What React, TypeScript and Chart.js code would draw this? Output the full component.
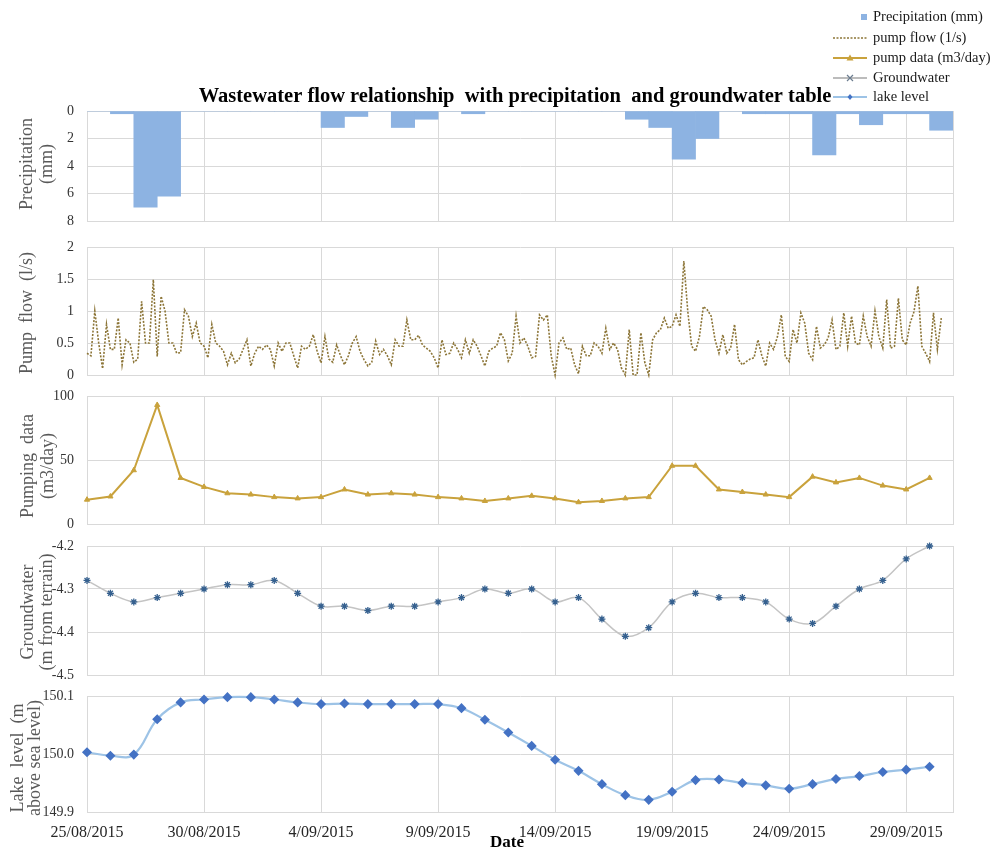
import React, { useEffect, useRef } from 'react';
import { Chart, registerables } from 'chart.js';

Chart.register(...registerables);

const FONT = "'Liberation Serif', 'Times New Roman', Times, serif";

// ---------------- data ----------------
const chartTitle = 'Wastewater flow relationship  with precipitation  and groundwater table';
const xAxisTitle = 'Date';
const seriesNames = ['Precipitation (mm)', 'pump flow (1/s)', 'pump data (m3/day)', 'Groundwater', 'lake level'];

const dateTickDays = [0, 5, 10, 15, 20, 25, 30, 35];
const dateTickLabels = ['25/08/2015', '30/08/2015', '4/09/2015', '9/09/2015', '14/09/2015', '19/09/2015', '24/09/2015', '29/09/2015'];

// daily precipitation (mm), 25/08 .. 30/09
const precipitationMm = [
  0, 0.2, 7.0, 6.2, 0, 0, 0, 0, 0, 0,
  1.2, 0.4, 0, 1.2, 0.6, 0, 0.2, 0, 0, 0,
  0, 0, 0, 0.6, 1.2, 3.5, 2.0, 0, 0.2, 0.2,
  0.2, 3.2, 0.2, 1.0, 0.2, 0.2, 1.4,
];

// pump flow (l/s), one reading every 4 hours from 25/08 00:00
const pumpFlowPerDay = 6;
const pumpFlowLps = [
  0.34, 0.30, 1.0, 0.5, 0.1, 0.79, 0.4, 0.4, 0.89, 0.16,
  0.55, 0.5, 0.2, 0.25, 1.15, 0.5, 0.5, 1.49, 0.29, 1.23,
  1.0, 0.5, 0.5, 0.34, 0.35, 1.02, 0.92, 0.6, 0.81, 0.5,
  0.45, 0.27, 0.79, 0.5, 0.45, 0.37, 0.16, 0.34, 0.19, 0.25,
  0.4, 0.55, 0.14, 0.34, 0.45, 0.4, 0.47, 0.4, 0.14, 0.5,
  0.37, 0.5, 0.5, 0.3, 0.11, 0.45, 0.4, 0.45, 0.63, 0.37,
  0.19, 0.6, 0.25, 0.2, 0.47, 0.3, 0.16, 0.3, 0.5, 0.6,
  0.37, 0.24, 0.14, 0.2, 0.53, 0.32, 0.4, 0.3, 0.16, 0.55,
  0.45, 0.45, 0.86, 0.55, 0.55, 0.62, 0.47, 0.42, 0.37, 0.27,
  0.11, 0.55, 0.32, 0.34, 0.5, 0.4, 0.27, 0.55, 0.34, 0.55,
  0.45, 0.3, 0.14, 0.37, 0.42, 0.45, 0.66, 0.55, 0.22, 0.34,
  0.92, 0.5, 0.58, 0.45, 0.27, 0.29, 0.94, 0.86, 0.94, 0.3,
  0.0, 0.5, 0.58, 0.4, 0.42, 0.16, 0.02, 0.45, 0.3, 0.3,
  0.5, 0.45, 0.34, 0.73, 0.4, 0.5, 0.4, 0.11, 0.0, 0.71,
  0.0, 0.0, 0.66, 0.19, 0.0, 0.55, 0.66, 0.71, 0.89, 0.73,
  0.76, 0.94, 0.76, 1.78, 1.0, 0.45, 0.37, 0.6, 1.07, 1.02,
  0.92, 0.55, 0.34, 0.63, 0.34, 0.42, 0.79, 0.24, 0.16, 0.21,
  0.25, 0.27, 0.55, 0.3, 0.14, 0.5, 0.4, 0.6, 0.94, 0.29,
  0.21, 0.71, 0.5, 0.97, 0.81, 0.34, 0.24, 0.76, 0.42, 0.47,
  0.58, 0.86, 0.4, 0.45, 0.97, 0.45, 0.92, 0.5, 0.47, 0.92,
  0.6, 0.45, 1.0, 0.6, 0.42, 1.18, 0.42, 0.45, 1.2, 0.55,
  0.47, 0.81, 0.99, 1.39, 0.45, 0.34, 0.21, 0.97, 0.4, 0.89,
];

// daily pumping data (m3/day)
const pumpDataM3 = [
  19, 21.5, 42, 93, 36, 29, 24, 23, 21, 20,
  21, 27, 23, 24, 23, 21, 20, 18, 20, 22,
  20, 17, 18, 20, 21, 45.5, 45.5, 27, 25, 23,
  21, 37, 32.5, 36, 30, 27, 36,
];

// daily groundwater level (m from terrain)
const groundwaterM = [
  -4.28, -4.31, -4.33, -4.32, -4.31, -4.30, -4.29, -4.29, -4.28, -4.31,
  -4.34, -4.34, -4.35, -4.34, -4.34, -4.33, -4.32, -4.30, -4.31, -4.30,
  -4.33, -4.32, -4.37, -4.41, -4.39, -4.33, -4.31, -4.32, -4.32, -4.33,
  -4.37, -4.38, -4.34, -4.30, -4.28, -4.23, -4.20,
];

// daily lake level (m above sea level)
const lakeLevelM = [
  150.003, 149.997, 149.999, 150.06, 150.089, 150.094, 150.098, 150.098, 150.094, 150.089,
  150.086, 150.087, 150.086, 150.086, 150.086, 150.086, 150.079, 150.059, 150.037, 150.014,
  149.99, 149.971, 149.948, 149.929, 149.921, 149.935, 149.955, 149.956, 149.95, 149.946,
  149.94, 149.948, 149.957, 149.962, 149.969, 149.973, 149.978,
];

// ---------------- layout / style ----------------
const W = 990;
const H = 849;
const PLOT_LEFT = 87;
const PLOT_RIGHT = 953;
const X_MAX = 37;
const GRID = '#d9d9d9';
const TICK_COLOR = '#333333';
const TITLE_COLOR = '#595959';

const C_PRECIP = '#8db3e2';
const C_FLOW = '#8c7537';
const C_PUMP = '#c9a23c';
const C_GW_LINE = '#c4c4c4';
const C_GW_MARK = '#35608f';
const C_LAKE_LINE = '#9dc3e6';
const C_LAKE_MARK = '#4472c4';

type TextItem = {
  text: string; x: number; y: number; font: string; color: string;
  rotate?: number; align?: CanvasTextAlign;
};

function overlayPlugin(items: TextItem[], extra?: (ctx: CanvasRenderingContext2D) => void) {
  return {
    id: 'overlay',
    afterDraw(chart: any) {
      const ctx: CanvasRenderingContext2D = chart.ctx;
      for (const it of items) {
        ctx.save();
        ctx.font = it.font;
        ctx.fillStyle = it.color;
        ctx.textAlign = it.align || 'center';
        ctx.textBaseline = 'middle';
        ctx.translate(it.x, it.y);
        if (it.rotate) ctx.rotate(it.rotate);
        ctx.fillText(it.text, 0, 0);
        ctx.restore();
      }
      if (extra) {
        ctx.save();
        extra(ctx);
        ctx.restore();
      }
    },
  };
}

function yTitle(lines: { text: string; x: number }[], y: number): TextItem[] {
  return lines.map((l) => ({
    text: l.text, x: l.x, y, font: `18px ${FONT}`, color: TITLE_COLOR, rotate: -Math.PI / 2,
  }));
}

function drawLegend(ctx: CanvasRenderingContext2D) {
  const rows = [17, 38, 58, 78, 97];
  const x0 = 833, x1 = 867, tx = 873, mx = 850;
  ctx.font = `14.5px ${FONT}`;
  ctx.textBaseline = 'middle';
  ctx.textAlign = 'left';
  // precipitation square
  ctx.fillStyle = C_PRECIP;
  ctx.fillRect(861, rows[0] - 3, 6, 6);
  // pump flow dashed
  ctx.strokeStyle = C_FLOW;
  ctx.lineWidth = 1.5;
  ctx.setLineDash([2, 1.5]);
  ctx.beginPath(); ctx.moveTo(x0, rows[1]); ctx.lineTo(x1, rows[1]); ctx.stroke();
  ctx.setLineDash([]);
  // pump data line + triangle
  ctx.strokeStyle = C_PUMP; ctx.lineWidth = 2;
  ctx.beginPath(); ctx.moveTo(x0, rows[2]); ctx.lineTo(x1, rows[2]); ctx.stroke();
  ctx.fillStyle = C_PUMP;
  ctx.beginPath(); ctx.moveTo(mx, rows[2] - 3.5); ctx.lineTo(mx + 3.5, rows[2] + 2.5); ctx.lineTo(mx - 3.5, rows[2] + 2.5); ctx.closePath(); ctx.fill();
  // groundwater line + x
  ctx.strokeStyle = '#a6a6a6'; ctx.lineWidth = 1.5;
  ctx.beginPath(); ctx.moveTo(x0, rows[3]); ctx.lineTo(x1, rows[3]); ctx.stroke();
  ctx.strokeStyle = '#6b7c8f'; ctx.lineWidth = 1.2;
  ctx.beginPath();
  ctx.moveTo(mx - 3, rows[3] - 3); ctx.lineTo(mx + 3, rows[3] + 3);
  ctx.moveTo(mx + 3, rows[3] - 3); ctx.lineTo(mx - 3, rows[3] + 3);
  ctx.stroke();
  // lake line + diamond
  ctx.strokeStyle = C_LAKE_LINE; ctx.lineWidth = 2;
  ctx.beginPath(); ctx.moveTo(x0, rows[4]); ctx.lineTo(x1, rows[4]); ctx.stroke();
  ctx.fillStyle = C_LAKE_MARK;
  ctx.beginPath(); ctx.moveTo(mx, rows[4] - 3); ctx.lineTo(mx + 2.5, rows[4]); ctx.lineTo(mx, rows[4] + 3); ctx.lineTo(mx - 2.5, rows[4]); ctx.closePath(); ctx.fill();
  // texts
  ctx.fillStyle = '#1a1a1a';
  seriesNames.forEach((n, i) => ctx.fillText(n, tx, rows[i]));
}

type PanelSpec = {
  top: number; bottom: number; showX: boolean;
  yMin: number; yMax: number; yStep: number; reverse?: boolean;
  yFmt?: (v: number) => string;
  type: 'bar' | 'line';
  datasets: any[];
  texts: TextItem[];
  extra?: (ctx: CanvasRenderingContext2D) => void;
};

function makeConfig(p: PanelSpec): any {
  const xh = p.showX ? 30 : 0;
  return {
    type: p.type,
    data: { datasets: p.datasets },
    options: {
      responsive: false,
      animation: false,
      devicePixelRatio: 1,
      events: [],
      layout: { padding: { left: 0, top: p.top, right: W - PLOT_RIGHT, bottom: H - p.bottom - xh } },
      plugins: { legend: { display: false }, tooltip: { enabled: false }, title: { display: false } },
      scales: {
        x: {
          type: 'linear',
          min: 0,
          max: X_MAX,
          offset: false,
          afterBuildTicks: (s: any) => {
            s.ticks = dateTickDays.concat([X_MAX]).map((v) => ({ value: v }));
          },
          afterFit: (s: any) => { s.height = xh; },
          grid: { color: GRID, drawTicks: false, offset: false, lineWidth: 1 },
          border: { color: GRID },
          ticks: {
            display: p.showX,
            autoSkip: false,
            maxRotation: 0,
            minRotation: 0,
            padding: 11,
            color: '#262626',
            font: { family: FONT, size: 16 },
            callback: (v: number) => {
              const k = dateTickDays.indexOf(v);
              return k >= 0 ? dateTickLabels[k] : '';
            },
          },
        },
        y: {
          type: 'linear',
          min: p.yMin,
          max: p.yMax,
          reverse: !!p.reverse,
          afterFit: (s: any) => { s.width = PLOT_LEFT; },
          grid: { color: GRID, drawTicks: false, lineWidth: 1 },
          border: { color: GRID },
          ticks: {
            stepSize: p.yStep,
            padding: 13,
            color: TICK_COLOR,
            font: { family: FONT, size: 14 },
            callback: p.yFmt ? (v: number) => p.yFmt!(v) : undefined,
          },
        },
      },
    },
    plugins: [overlayPlugin(p.texts, p.extra)],
  };
}

const panels: PanelSpec[] = [
  {
    top: 111, bottom: 221, showX: false, yMin: 0, yMax: 8, yStep: 2, reverse: true,
    type: 'bar',
    datasets: [{
      label: seriesNames[0],
      data: precipitationMm.map((v, i) => ({ x: i + 0.5, y: v })),
      backgroundColor: C_PRECIP,
      borderWidth: 0,
      barPercentage: 1,
      categoryPercentage: 1,
    }],
    texts: [
      ...yTitle([{ text: 'Precipitation', x: 27 }, { text: '(mm)', x: 47 }], 164),
      { text: chartTitle, x: 515, y: 97, font: `bold 20.5px ${FONT}`, color: '#000' },
    ],
    extra: drawLegend,
  },
  {
    top: 247, bottom: 375, showX: false, yMin: 0, yMax: 2, yStep: 0.5,
    type: 'line',
    datasets: [{
      label: seriesNames[1],
      data: pumpFlowLps.map((v, i) => ({ x: i / pumpFlowPerDay, y: v })),
      borderColor: C_FLOW,
      borderWidth: 1.6,
      borderDash: [2, 1.5],
      pointRadius: 0,
      tension: 0,
      clip: false,
    }],
    texts: yTitle([{ text: 'Pump  flow  (l/s)', x: 27 }], 313),
  },
  {
    top: 396, bottom: 524, showX: false, yMin: 0, yMax: 100, yStep: 50,
    type: 'line',
    datasets: [{
      label: seriesNames[2],
      data: pumpDataM3.map((v, i) => ({ x: i, y: v })),
      borderColor: C_PUMP,
      borderWidth: 2,
      pointStyle: 'triangle',
      pointRadius: 3,
      pointBackgroundColor: C_PUMP,
      pointBorderColor: C_PUMP,
      pointBorderWidth: 1,
      tension: 0,
      clip: false,
    }],
    texts: yTitle([{ text: 'Pumping  data', x: 28 }, { text: '(m3/day)', x: 48 }], 466),
  },
  {
    top: 546, bottom: 675, showX: false, yMin: -4.5, yMax: -4.2, yStep: 0.1,
    yFmt: (v) => v.toFixed(1),
    type: 'line',
    datasets: [{
      label: seriesNames[3],
      data: groundwaterM.map((v, i) => ({ x: i, y: v })),
      borderColor: C_GW_LINE,
      borderWidth: 1.5,
      pointStyle: 'star',
      pointRadius: 3.5,
      pointBorderColor: C_GW_MARK,
      pointBackgroundColor: C_GW_MARK,
      pointBorderWidth: 1.3,
      tension: 0.35,
      clip: false,
    }],
    texts: yTitle([{ text: 'Groundwater', x: 28 }, { text: '(m from terrain)', x: 47 }], 612),
  },
  {
    top: 696, bottom: 812, showX: true, yMin: 149.9, yMax: 150.1, yStep: 0.1,
    yFmt: (v) => v.toFixed(1),
    type: 'line',
    datasets: [{
      label: seriesNames[4],
      data: lakeLevelM.map((v, i) => ({ x: i, y: v })),
      borderColor: C_LAKE_LINE,
      borderWidth: 2.2,
      pointStyle: 'rectRot',
      pointRadius: 3.5,
      pointBackgroundColor: C_LAKE_MARK,
      pointBorderColor: C_LAKE_MARK,
      tension: 0.4,
      clip: false,
    }],
    texts: [
      ...yTitle([{ text: 'Lake  level  (m', x: 18 }, { text: 'above sea level)', x: 35 }], 758),
      { text: xAxisTitle, x: 507, y: 843, font: `bold 17px ${FONT}`, color: '#000' },
    ],
  },
];

export default function App() {
  const refs = useRef<(HTMLCanvasElement | null)[]>([]);

  useEffect(() => {
    const charts = panels.map((p, i) => new Chart(refs.current[i] as HTMLCanvasElement, makeConfig(p)));
    return () => charts.forEach((c) => c.destroy());
  }, []);

  return (
    <div style={{ position: 'absolute', left: 0, top: 0, width: W, height: H, background: '#fff', overflow: 'hidden' }}>
      {panels.map((_, i) => (
        <canvas
          key={i}
          ref={(el) => { refs.current[i] = el; }}
          width={W}
          height={H}
          style={{ position: 'absolute', left: 0, top: 0, width: W, height: H }}
        />
      ))}
    </div>
  );
}
